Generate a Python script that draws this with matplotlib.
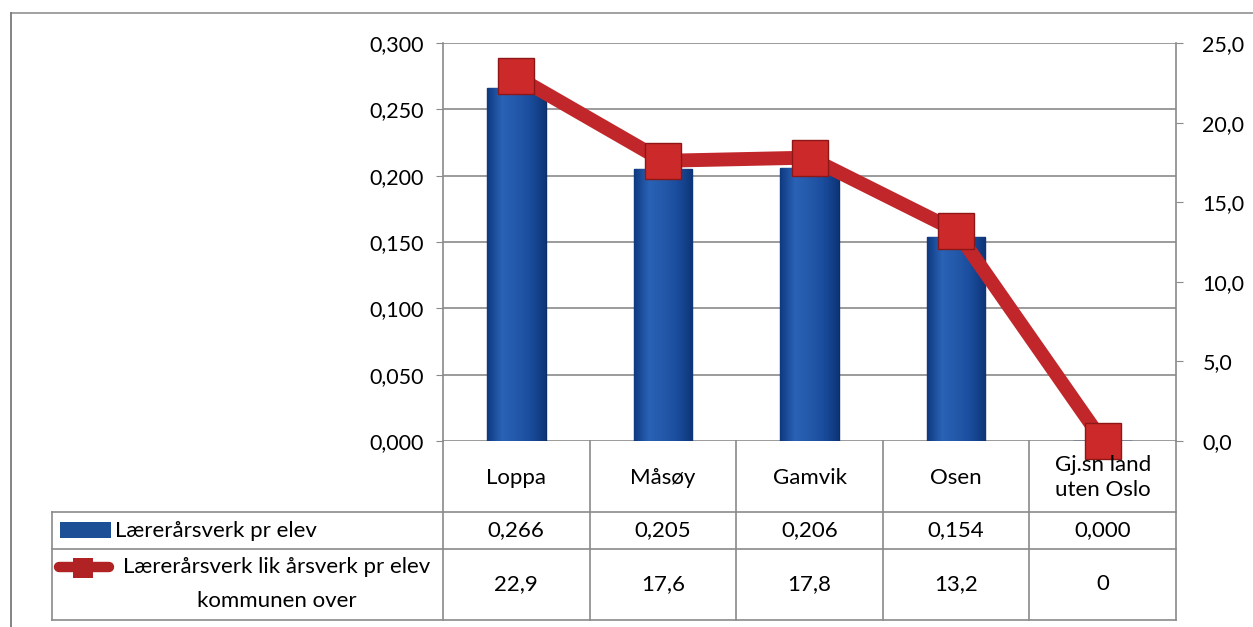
import numpy as np
import matplotlib.pyplot as plt
from matplotlib.patches import Rectangle
from matplotlib.lines import Line2D
from matplotlib.colors import LinearSegmentedColormap

plt.rcParams['font.family'] = ['Lato', 'DejaVu Sans']

#%% data
kommuner = ['Loppa', 'Måsøy', 'Gamvik', 'Osen', 'Gj.sn land\nuten Oslo']
aarsverk_elev = [0.266, 0.205, 0.206, 0.154, 0.000]
lik_aarsverk = [22.9, 17.6, 17.8, 13.2, 0.0]
bar_txt = ['0,266', '0,205', '0,206', '0,154', '0,000']
line_txt = ['22,9', '17,6', '17,8', '13,2', '0']
left_ticks = np.arange(0, 0.301, 0.05)
right_ticks = np.arange(0, 25.1, 5)
serie1 = 'Lærerårsverk pr elev'
serie2 = ('Lærerårsverk lik årsverk pr elev', 'kommunen over')

#%% layout (pixels)
W, H = 1253, 627
px = lambda x: x / W
py = lambda y: 1 - y / H
x0, x1 = 443, 1176
y_top, y_bot = 43, 441
rows = [441, 512, 549, 620]
x_leg = 52
grid_c = '#8a8a8a'
blue = '#1c4f9e'
red = '#c1262a'
fs = 15.5   # axis labels
fst = 16    # table text

fig = plt.figure(figsize=(W / 100, H / 100), dpi=100)
ax = fig.add_axes([px(x0), py(y_bot), px(x1) - px(x0), py(y_top) - py(y_bot)])
ax2 = ax.twinx()

n = len(kommuner)
xs = np.arange(n)
bars = ax.bar(xs, aarsverk_elev, width=0.4, color=blue, edgecolor='#0b2c66',
              linewidth=1.0, zorder=2)

# 3D-ish shading of the columns
cmap = LinearSegmentedColormap.from_list(
    'col', ['#0f3a80', '#2a62b6', '#2459aa', '#1a4c9c', '#0e3577'])
grad = np.linspace(0, 1, 64).reshape(1, -1)
for b in bars:
    if b.get_height() <= 0:
        continue
    im = ax.imshow(grad, cmap=cmap, aspect='auto', zorder=2.5,
                   extent=(b.get_x(), b.get_x() + b.get_width(), 0, b.get_height()))
    im.set_clip_path(b)

ax.set_xlim(-0.5, n - 0.5)
ax.set_ylim(0, 0.3)
ax.set_yticks(left_ticks)
ax.set_yticklabels([f'{v:.3f}'.replace('.', ',') for v in left_ticks])
ax.set_xticks([])
ax.grid(axis='y', color=grid_c, linewidth=1.2, zorder=0)
ax.set_axisbelow(True)
for s in ['top', 'right', 'bottom']:
    ax.spines[s].set_visible(False)
ax.spines['left'].set_color(grid_c)
ax.spines['left'].set_linewidth(1.2)
ax.tick_params(axis='y', length=5, color=grid_c, pad=9, labelsize=fs)

ax2.plot(xs, lik_aarsverk, color=red, linewidth=10, marker='s', markersize=26,
         markerfacecolor='#cc2a2a', markeredgecolor='#8e1616', markeredgewidth=1.0,
         clip_on=False, zorder=5, solid_joinstyle='miter')
ax2.set_ylim(0, 25)
ax2.set_yticks(right_ticks)
ax2.set_yticklabels([f'{v:.1f}'.replace('.', ',') for v in right_ticks])
for s in ['top', 'left', 'bottom']:
    ax2.spines[s].set_visible(False)
ax2.spines['right'].set_color(grid_c)
ax2.spines['right'].set_linewidth(1.2)
ax2.tick_params(axis='y', length=5, color=grid_c, pad=14, labelsize=fs)
ax2.set_zorder(ax.get_zorder() + 1)
ax2.patch.set_visible(False)

#%% data table
col_w = (x1 - x0) / n
def hline(y, xa, xb):
    fig.add_artist(Line2D([px(xa), px(xb)], [py(y), py(y)], color=grid_c, lw=1.2))
def vline(x, ya, yb):
    fig.add_artist(Line2D([px(x), px(x)], [py(ya), py(yb)], color=grid_c, lw=1.2))

hline(rows[1], x_leg, x1)
hline(rows[2], x_leg, x1)
hline(rows[3], x_leg, x1)
for i in range(n + 1):
    vline(x0 + i * col_w, rows[0], rows[3])
vline(x_leg, rows[1], rows[3])

for i in range(n):
    cx = px(x0 + (i + 0.5) * col_w)
    fig.text(cx, py((rows[0] + rows[1]) / 2 + 1), kommuner[i], ha='center', va='center',
             fontsize=fst, linespacing=1.3, zorder=1)
    fig.text(cx, py((rows[1] + rows[2]) / 2), bar_txt[i], ha='center', va='center', fontsize=fst)
    fig.text(cx, py((rows[2] + rows[3]) / 2), line_txt[i], ha='center', va='center', fontsize=fst)

# legend keys
fig.add_artist(Rectangle((px(60), py(538)), px(111) - px(60), py(522) - py(538),
                         facecolor='#1d4f96', edgecolor='none'))
fig.text(px(115), py(531), serie1, ha='left', va='center', fontsize=fst)
fig.add_artist(Line2D([px(59), px(109)], [py(567), py(567)], color='#b02224', lw=7.5,
                      solid_capstyle='round'))
fig.add_artist(Rectangle((px(73), py(578)), px(93) - px(73), py(558) - py(578),
                         facecolor='#b02224', edgecolor='none'))
fig.text(px(277), py(567), serie2[0], ha='center', va='center', fontsize=fst)
fig.text(px(277), py(601), serie2[1], ha='center', va='center', fontsize=fst)

# chart frame (top and left edges visible)
fig.add_artist(Line2D([px(11), px(W)], [py(13), py(13)], color='#9a9a9a', lw=1.3))
fig.add_artist(Line2D([px(11), px(11)], [py(13), py(H)], color='#7a7a7a', lw=1.3))

plt.savefig('out.png', dpi=100)
